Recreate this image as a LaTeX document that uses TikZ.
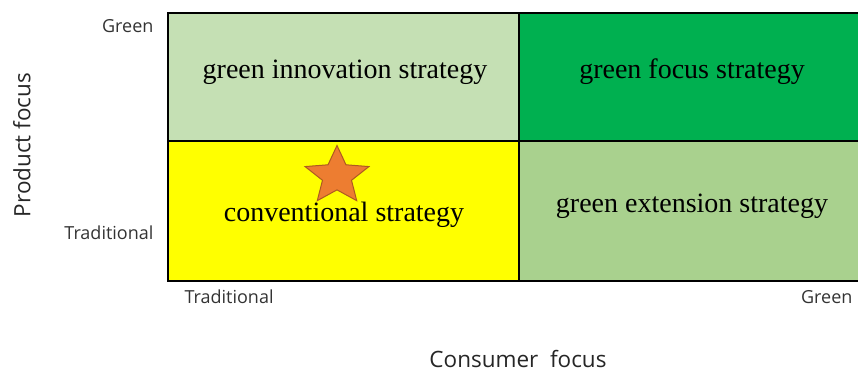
\documentclass[tikz,border=0pt]{standalone}
\usepackage{fontspec}
\setmainfont{Liberation Serif}
\newfontfamily\axisfont{Open Sans}
\usetikzlibrary{shapes.geometric}
\definecolor{lgreen}{HTML}{C5E0B4}
\definecolor{dgreen}{HTML}{00B050}
\definecolor{mgreen}{HTML}{A9D18E}
\definecolor{yel}{HTML}{FFFF00}
\definecolor{starfill}{HTML}{ED7D31}
\definecolor{starline}{HTML}{AE5A21}
\tikzset{
  celltext/.style={font=\fontsize{28}{32}\selectfont, text=black},
  ticklabel/.style={font=\axisfont\fontsize{18}{21}\selectfont, text=black!80},
  axislabel/.style={font=\axisfont\fontsize{22.5}{26}\selectfont, text=black!85, inner sep=0pt},
  gridline/.style={draw=black, line width=1.5pt}
}
\begin{document}
\begin{tikzpicture}[x=1pt,y=-1pt]
\useasboundingbox (0,0) rectangle (858,372);
\fill[lgreen] (168,13) rectangle (519,141);
\fill[dgreen] (519,13) rectangle (858,141);
\fill[yel] (168,141) rectangle (519,281);
\fill[mgreen] (519,141) rectangle (858,281);
\draw[gridline] (858,13) -- (168,13) -- (168,281) -- (858,281);
\draw[gridline] (519,13) -- (519,281);
\draw[gridline] (168,141) -- (858,141);
\node[celltext] (gi) at (345,72) {green innovation strategy};
\node[celltext] (gf) at (692,72) {green focus strategy};
\node[celltext] (cs) at (344,215) {conventional strategy};
\node[celltext] (ge) at (692,206) {green extension strategy};
\node[star, star points=5, star point ratio=2.2, minimum size=61pt, inner sep=0pt, fill=starfill, draw=starline, line width=1pt, xscale=1.1, transform shape] (st) at (337,176) {};
\node[ticklabel, anchor=east] (yg) at (157,26) {Green};
\node[ticklabel, anchor=east] (yt) at (157,233) {Traditional};
\node[ticklabel, anchor=west] (xt) at (181,297) {Traditional};
\node[ticklabel, anchor=east] (xg) at (856,297) {Green};
\node[axislabel] (xl) at (518,359) {Consumer\ \ focus};
\node[axislabel, rotate=90] (yl) at (22,145) {Product focus};
\end{tikzpicture}
\end{document}
